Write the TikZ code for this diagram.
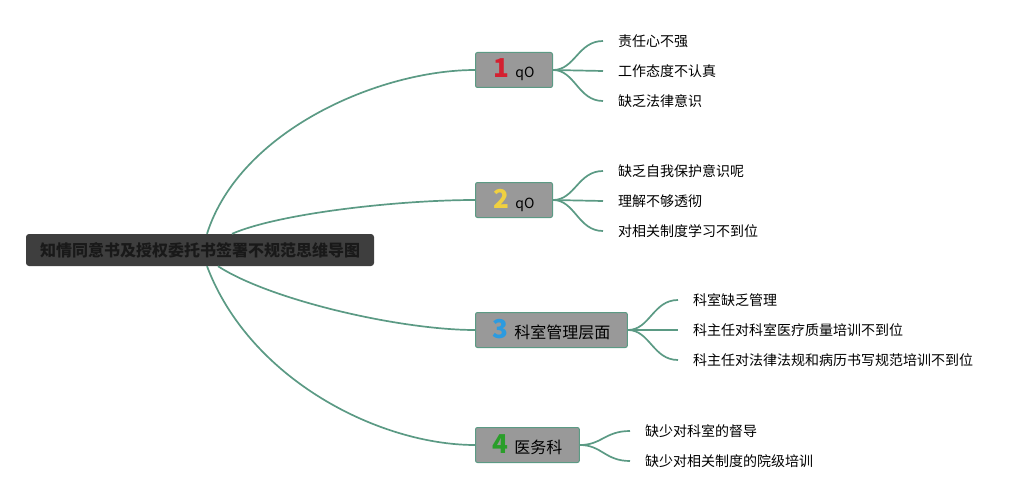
\documentclass[tikz,border=0pt]{standalone}
\usepackage{fontspec}
\setmainfont{Noto Sans CJK SC}
\definecolor{linkc}{HTML}{5B9A84}
\definecolor{boxc}{HTML}{999999}
\definecolor{rootc}{HTML}{3E3E3E}
\definecolor{numred}{HTML}{D42030}
\definecolor{numyellow}{HTML}{F0D040}
\definecolor{numblue}{HTML}{2C9BE0}
\definecolor{numgreen}{HTML}{2A9E2A}
\newcommand{\topicnum}[2]{{\color{#1}\fontsize{26}{26}\selectfont\bfseries #2}\hspace{6pt}}
\tikzset{
  link/.style={draw=linkc, line width=1.7pt},
  topic/.style={draw=linkc, fill=boxc, rounded corners=2pt, line width=1pt,
    minimum height=35pt, inner xsep=17pt, anchor=west, font=\fontsize{14}{16}\selectfont},
  leaf/.style={anchor=west, inner sep=2pt, font=\fontsize{14}{16}\selectfont},
}
\begin{document}
\begin{tikzpicture}[x=1pt,y=-1pt]
\useasboundingbox (0,0) rectangle (1033,500);
% centre
\node[fill=rootc, rounded corners=3pt, minimum width=348pt, minimum height=32pt,
  font=\fontsize{16}{20}\selectfont\bfseries, text=black!90] (root) at (200,250)
  {知情同意书及授权委托书签署不规范思维导图};
% topics
\node[topic, minimum width=77pt, inner xsep=10pt] (t1) at (475,70) {\topicnum{numred}{1}qO};
\node[topic, minimum width=77pt, inner xsep=10pt] (t2) at (475,200) {\topicnum{numyellow}{2}qO};
\node[topic] (t3) at (475,330) {\topicnum{numblue}{3}{\fontsize{16}{18}\selectfont 科室管理层面}};
\node[topic] (t4) at (475,445) {\topicnum{numgreen}{4}{\fontsize{16}{18}\selectfont 医务科}};
\draw[link] ([xshift=7pt]root.north) .. controls (240,130) and (380,70) .. (t1.west);
\draw[link] ([xshift=32pt]root.north) .. controls (280,213) and (400,200) .. (t2.west);
\draw[link] ([xshift=18pt]root.south) .. controls (270,300) and (400,330) .. (t3.west);
\draw[link] ([xshift=7pt]root.south) .. controls (250,380) and (380,445) .. (t4.west);
% leaves 1
\node[leaf] (l11) at (616,41) {责任心不强};
\node[leaf] (l12) at (616,71) {工作态度不认真};
\node[leaf] (l13) at (616,101) {缺乏法律意识};
\draw[link] (t1.east) .. controls +(22,0) and +(-25,0) .. ([xshift=-13pt]l11.west);
\draw[link] (t1.east) -- ([xshift=-13pt]l12.west);
\draw[link] (t1.east) .. controls +(22,0) and +(-25,0) .. ([xshift=-13pt]l13.west);
% leaves 2
\node[leaf] (l21) at (616,171) {缺乏自我保护意识呢};
\node[leaf] (l22) at (616,201) {理解不够透彻};
\node[leaf] (l23) at (616,231) {对相关制度学习不到位};
\draw[link] (t2.east) .. controls +(22,0) and +(-25,0) .. ([xshift=-13pt]l21.west);
\draw[link] (t2.east) -- ([xshift=-13pt]l22.west);
\draw[link] (t2.east) .. controls +(22,0) and +(-25,0) .. ([xshift=-13pt]l23.west);
% leaves 3
\node[leaf] (l31) at (691,300) {科室缺乏管理};
\node[leaf] (l32) at (691,330) {科主任对科室医疗质量培训不到位};
\node[leaf] (l33) at (691,360) {科主任对法律法规和病历书写规范培训不到位};
\draw[link] (t3.east) .. controls +(22,0) and +(-25,0) .. ([xshift=-13pt]l31.west);
\draw[link] (t3.east) -- ([xshift=-13pt]l32.west);
\draw[link] (t3.east) .. controls +(22,0) and +(-25,0) .. ([xshift=-13pt]l33.west);
% leaves 4
\node[leaf] (l41) at (643,431) {缺少对科室的督导};
\node[leaf] (l42) at (643,461) {缺少对相关制度的院级培训};
\draw[link] (t4.east) .. controls +(22,0) and +(-25,0) .. ([xshift=-13pt]l41.west);
\draw[link] (t4.east) .. controls +(22,0) and +(-25,0) .. ([xshift=-13pt]l42.west);
\end{tikzpicture}
\end{document}
